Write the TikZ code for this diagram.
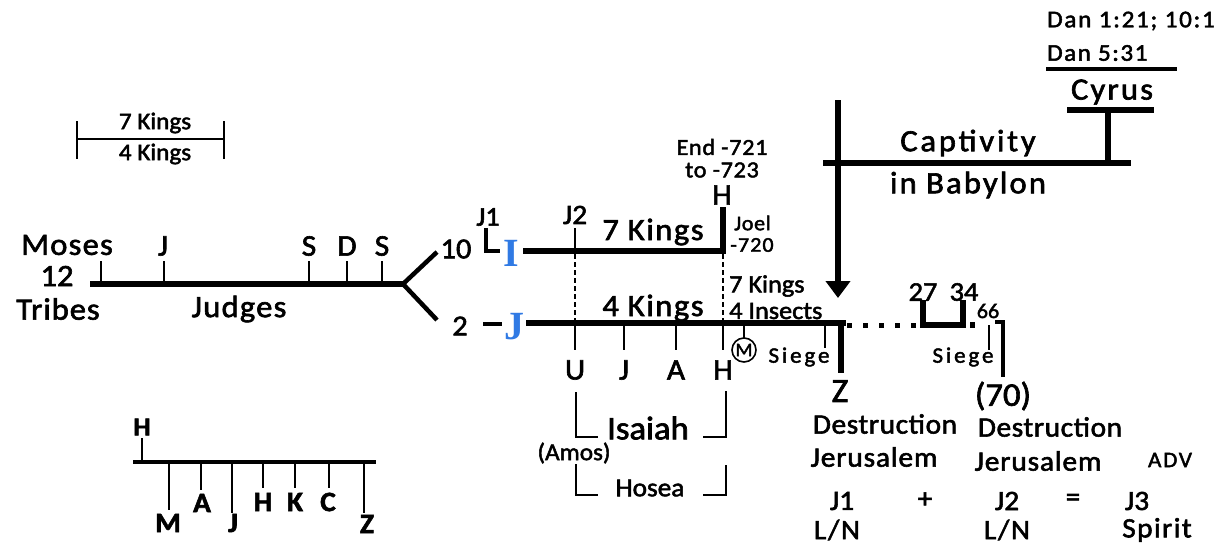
\documentclass[tikz,border=0pt]{standalone}
\usepackage{fontspec}
\setmainfont{Carlito}[FakeBold=2.0,FakeStretch=1.05]
\newfontfamily\serifface{Liberation Serif}
\usetikzlibrary{arrows.meta}
\definecolor{jblue}{RGB}{48,122,228}
\newcommand\fsz[1]{\fontsize{#1}{#1}\selectfont}
\newcommand\lsp[1]{\addfontfeature{LetterSpace=#1}}
\begin{document}
\begin{tikzpicture}[x=1pt,y=-1pt,
  heavy/.style={line width=6pt},
  medium/.style={line width=4.5pt},
  fine/.style={line width=2pt},
  dashline/.style={line width=1.6pt,dash pattern=on 5pt off 3pt},
  lbl/.style={inner sep=0pt,anchor=center},
  lbll/.style={inner sep=0pt,anchor=west},
]
\useasboundingbox[fill=white] (0,0) rectangle (1226,547);

% ---- scale bar
\draw[fine] (77,121) -- (77,159);
\draw[fine] (224,121) -- (224,159);
\draw[fine] (77,139) -- (224,139);
\node[lbl] (sk7) at (155,123) {\fsz{24}7 Kings};
\node[lbl] (sk4) at (155,154) {\fsz{24}4 Kings};

% ---- Judges line
\draw[heavy] (90,284) -- (405,284);
\foreach \x in {101,164,309,347,382} \draw[fine] (\x,261) -- (\x,284);
\draw[medium,line join=miter] (437,252) -- (403,284) -- (437,320);
\node[lbl] (moses) at (67,245) {\fsz{31}\lsp{4}Moses};
\node[lbl] (twelve) at (57,276) {\fsz{31}12};
\node[lbl] (tribes) at (58,309) {\fsz{31}\lsp{3}Tribes};
\node[lbl] (judges) at (239,309) {\fsz{31}\lsp{4}Judges};
\node[lbl] (jj) at (163,246) {\fsz{30}J};
\node[lbl] (ss1) at (309,246) {\fsz{30}S};
\node[lbl] (dd) at (347,246) {\fsz{30}D};
\node[lbl] (ss2) at (382,246) {\fsz{30}S};
\node[lbl] (ten) at (456,249) {\fsz{29}10};
\node[lbl] (two) at (460,326) {\fsz{29}2};

% ---- Israel line
\draw[medium,line join=miter] (486,228) -- (486,251) -- (500,251);
\node[lbl] (j1) at (488,217) {\fsz{27}J1};
\node[lbl,text=jblue] (isr) at (511,253) {\serifface\bfseries\fsz{40}I};
\draw[heavy,line join=miter] (523,251) -- (723,251) -- (723,207);
\draw[fine] (575,228) -- (575,251);
\node[lbl] (j2) at (575,215) {\fsz{28}J2};
\node[lbl] (k7) at (653,232) {\fsz{31}\lsp{5}7 Kings};
\node[lbl] (hh) at (722,195) {\fsz{30}H};
\node[lbl] (end1) at (722,147) {\fsz{23}\lsp{3}End -721};
\node[lbl] (end2) at (722,170) {\fsz{23}\lsp{3}to -723};
\node[lbll] (joel) at (734,223) {\fsz{21}\lsp{3}Joel};
\node[lbll] (m720) at (730,245) {\fsz{21}\lsp{5}-720};
\draw[dashline] (575,254) -- (575,321);
\draw[dashline] (723,254) -- (723,321);

% ---- Judah line
\draw[medium] (483,324) -- (502,324);
\node[lbl,text=jblue] (jud) at (514,327) {\serifface\bfseries\fsz{40}J};
\draw[heavy] (526,323) -- (846,323);
\node[lbl] (k4) at (653,308) {\fsz{31}\lsp{5}4 Kings};
\node[lbll] (k7b) at (729,286) {\fsz{25}7 Kings};
\node[lbll] (ins) at (729,311) {\fsz{25}4 Insects};
\foreach \x in {575,624,676,723} \draw[fine] (\x,323) -- (\x,350);
\node[lbl] (uu) at (575,370) {\fsz{30}U};
\node[lbl] (ju) at (624,370) {\fsz{30}J};
\node[lbl] (au) at (676,370) {\fsz{30}A};
\node[lbl] (hu) at (723,370) {\fsz{30}H};
\draw[fine] (744,323) -- (744,338);
\node[circle,draw,line width=1.6pt,minimum size=24pt,inner sep=0pt] (mc) at (744,350) {\fsz{19}M};
\node[lbl] (siege1) at (799,357) {\fsz{22}\lsp{13}Siege};
\draw[fine] (825,323) -- (825,348);
\draw[heavy] (841,320) -- (841,373);
\draw[line width=5pt,dash pattern=on 5pt off 11pt] (847,325) -- (918,325);
\draw[heavy,line join=miter] (923,300) -- (923,325) -- (963,325) -- (963,300);
\fill (970,322) rectangle (975,328);
\draw[medium,line join=miter] (995,322) -- (1003,322) -- (1003,377);
\draw[fine] (989,325) -- (989,350);
\node[lbl] (n27) at (923,292) {\fsz{27}27};
\node[lbl] (n34) at (964,292) {\fsz{27}34};
\node[lbl] (n66) at (988,311) {\fsz{21}66};
\node[lbl] (siege2) at (963,357) {\fsz{22}\lsp{13}Siege};

% ---- arrow and captivity
\draw[heavy,-{Triangle[width=24pt,length=17pt]}] (838,100) -- (838,298);
\draw[heavy] (823,163) -- (1131,163);
\draw[heavy] (1108,110) -- (1108,163);
\draw[heavy] (1067,110) -- (1154,110);
\draw[medium] (1046,69) -- (1177,69);
\node[lbl] (capt) at (968,143) {\fsz{31}\lsp{9}Captivity};
\node[lbl] (bab) at (968,185) {\fsz{31}\lsp{7}in Babylon};
\node[lbl] (cyrus) at (1112,92) {\fsz{31}\lsp{7}Cyrus};
\node[lbll] (dan2) at (1047,53) {\fsz{24}\lsp{6}Dan 5:31};
\node[lbll] (dan1) at (1047,21) {\fsz{24}\lsp{7}Dan 1:21; 10:1};

% ---- destruction labels
\node[lbl] (zz) at (840,391) {\fsz{34}Z};
\node[lbl] (seventy) at (1003,396) {\fsz{33}(70)};
\node[lbl] (des1) at (885,424) {\fsz{28}\lsp{2}Destruction};
\node[lbl] (jer1) at (874,457) {\fsz{28}\lsp{3}Jerusalem};
\node[lbl] (des2) at (1050,427) {\fsz{28}\lsp{2}Destruction};
\node[lbl] (jer2) at (1038,461) {\fsz{28}\lsp{3}Jerusalem};
\node[lbl] (adv) at (1170,460) {\fsz{22}\lsp{8}ADV};
\node[lbl] (eq1) at (842,501) {\fsz{28}J1};
\node[lbl] (ln1) at (837,530) {\fsz{28}\lsp{6}L/N};
\node[lbl] (plus) at (925,500) {\fsz{28}+};
\node[lbl] (eq2) at (1007,501) {\fsz{28}J2};
\node[lbl] (ln2) at (1007,530) {\fsz{28}\lsp{6}L/N};
\node[lbl] (eqs) at (1073,500) {\fsz{28}=};
\node[lbl] (eq3) at (1137,501) {\fsz{28}J3};
\node[lbl] (spirit) at (1157,530) {\fsz{28}\lsp{5}Spirit};

% ---- Isaiah / Hosea
\draw[fine] (576,392) -- (576,437) -- (598,437);
\draw[fine] (703,437) -- (726,437) -- (726,391);
\draw[fine] (576,464) -- (576,495) -- (598,495);
\draw[fine] (703,495) -- (726,495) -- (726,465);
\node[lbl] (isaiah) at (648,428) {\fsz{33}Isaiah};
\node[lbl] (amos) at (574,453) {\fsz{24}(Amos)};
\node[lbl] (hosea) at (650,488) {\fsz{26}Hosea};

% ---- bottom-left chart
\draw[fine] (142,438) -- (142,462);
\draw[medium] (133,462) -- (376,462);
\node[lbl] (bh) at (142,427) {\bfseries\fsz{26}H};
\draw[fine] (169,462) -- (169,510);
\draw[fine] (201,462) -- (201,490);
\draw[fine] (232,462) -- (232,513);
\draw[fine] (263,462) -- (263,488);
\draw[fine] (295,462) -- (295,488);
\draw[fine] (329,462) -- (329,488);
\draw[fine] (364,462) -- (364,513);
\node[lbl] (bm) at (168,523) {\bfseries\fsz{28}M};
\node[lbl] (ba) at (202,503) {\bfseries\fsz{28}A};
\node[lbl] (bj) at (233,523) {\bfseries\fsz{28}J};
\node[lbl] (bh2) at (263,502) {\bfseries\fsz{28}H};
\node[lbl] (bk) at (295,502) {\bfseries\fsz{28}K};
\node[lbl] (bc) at (328,502) {\bfseries\fsz{28}C};
\node[lbl] (bz) at (367,524) {\bfseries\fsz{28}Z};
\end{tikzpicture}
\end{document}
